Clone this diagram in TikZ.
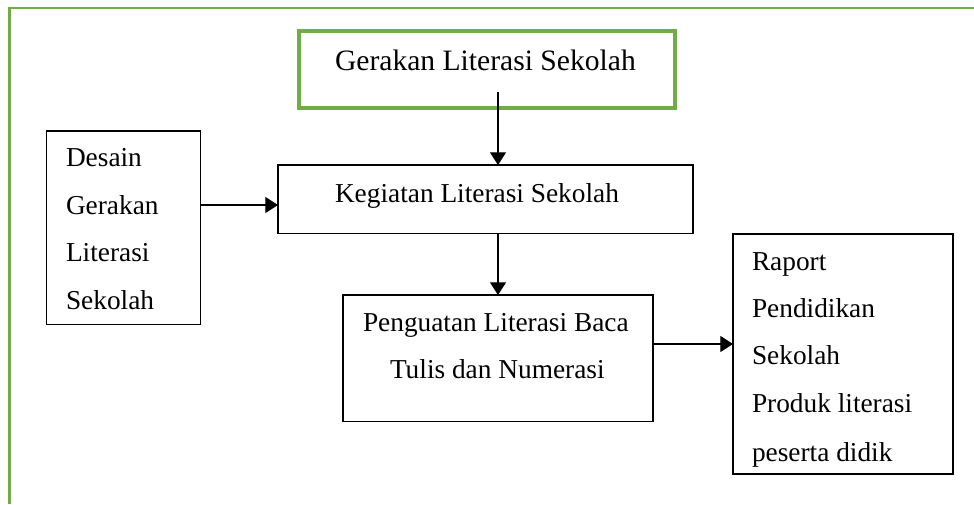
\documentclass[tikz,border=0pt]{standalone}
\usepackage{fontspec}
\setmainfont{Liberation Serif}
\usetikzlibrary{arrows.meta}
\definecolor{frameGreen}{HTML}{70AD47}
\begin{document}
\begin{tikzpicture}[x=0.75pt,y=-0.75pt,
  blackbox/.style={draw=black, line width=1.45pt, inner sep=0pt, outer sep=0pt, rectangle},
  greenbox/.style={draw=frameGreen, line width=2.3pt, inner sep=0pt, outer sep=0pt, rectangle},
  txt/.style={anchor=base west, inner sep=0pt, outer sep=0pt, font=\fontsize{20.5}{24}\selectfont},
  bigtxt/.style={txt, font=\fontsize{22.2}{26}\selectfont},
  conn/.style={draw=black, line width=0.9pt, -{Triangle[length=9.5pt,width=12pt]}}]
\useasboundingbox (0,0) rectangle (974,504);
% outer frame (open to the right and bottom)
\draw[frameGreen, line width=1.9pt] (9.5,504) -- (9.5,7.8) -- (974,7.8);

% boxes
\node[greenbox, minimum width=376*0.75pt, minimum height=77*0.75pt] (gerakan) at (487,69.5) {};
\node[blackbox, minimum width=154*0.75pt, minimum height=193.5*0.75pt] (desain) at (123.5,227.75) {};
\node[blackbox, minimum width=415*0.75pt, minimum height=68.5*0.75pt] (kegiatan) at (485.5,199.25) {};
\node[blackbox, minimum width=310*0.75pt, minimum height=126.5*0.75pt] (penguatan) at (498,358.25) {};
\node[blackbox, minimum width=220*0.75pt, minimum height=240*0.75pt] (raport) at (843,354) {};

% texts
\node[bigtxt] (tg) at (335,70) {Gerakan Literasi Sekolah};
\node[txt] (tk) at (335,202) {Kegiatan Literasi Sekolah};
\node[txt] (tp1) at (363,331) {Penguatan Literasi Baca};
\node[txt] (tp2) at (390,378.5) {Tulis dan Numerasi};
\node[txt] (td1) at (66,166.5) {Desain};
\node[txt] (td2) at (66,214) {Gerakan};
\node[txt] (td3) at (66,261.5) {Literasi};
\node[txt] (td4) at (66,309) {Sekolah};
\node[txt] (tr1) at (752,270) {Raport};
\node[txt] (tr2) at (752,317) {Pendidikan};
\node[txt] (tr3) at (752,364) {Sekolah};
\node[txt] (tr4) at (752,412.5) {Produk literasi};
\node[txt] (tr5) at (752,461) {peserta didik};

% connectors
\coordinate (gstart) at (498,92);
\coordinate (dy) at (0,205);
\coordinate (py) at (0,344);
\draw[conn] (gstart) -- (gstart |- kegiatan.north);
\draw[conn] (desain.east |- dy) -- (kegiatan.west |- dy);
\draw[conn] (kegiatan.south -| penguatan.north) -- (penguatan.north);
\draw[conn] (penguatan.east |- py) -- (raport.west |- py);
\end{tikzpicture}
\end{document}
